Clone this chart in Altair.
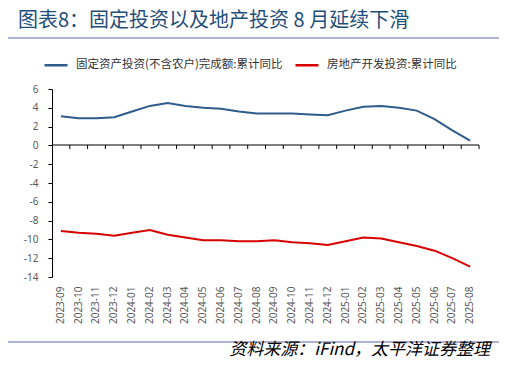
import altair as alt
import pandas as pd

months = ["2023-09", "2023-10", "2023-11", "2023-12", "2024-01", "2024-02", "2024-03", "2024-04",
          "2024-05", "2024-06", "2024-07", "2024-08", "2024-09", "2024-10", "2024-11", "2024-12",
          "2025-01", "2025-02", "2025-03", "2025-04", "2025-05", "2025-06", "2025-07", "2025-08"]
fai = [3.1, 2.9, 2.9, 3.0, 3.6, 4.2, 4.5, 4.2, 4.0, 3.9, 3.6, 3.4,
       3.4, 3.4, 3.3, 3.2, 3.7, 4.1, 4.2, 4.0, 3.7, 2.8, 1.6, 0.5]
realestate = [-9.1, -9.3, -9.4, -9.6, -9.3, -9.0, -9.5, -9.8, -10.1, -10.1, -10.2, -10.2,
              -10.1, -10.3, -10.4, -10.6, -10.2, -9.8, -9.9, -10.3, -10.7, -11.2, -12.0, -12.9]
series_names = ["固定资产投资(不含农户)完成额:累计同比", "房地产开发投资:累计同比"]
series_colors = ["#2E5D8C", "#D80000"]
y_ticks = list(range(-14, 7, 2))
title_text = "图表8：固定投资以及地产投资 8 月延续下滑"
source_text = "资料来源：iFind，太平洋证券整理"

rows = []
for m, v in zip(months, fai):
    rows.append({"month": m, "value": v, "series": series_names[0]})
for m, v in zip(months, realestate):
    rows.append({"month": m, "value": v, "series": series_names[1]})
df = pd.DataFrame(rows)

PLOT_W, PLOT_H = 427, 188

xscale = alt.Scale(type="band", domain=months, paddingInner=0, paddingOuter=0)
yscale = alt.Scale(domain=[-14, 6], nice=False, zero=False)
y_axis = alt.Axis(title=None, values=y_ticks, grid=False, domain=True, domainColor="black",
                  ticks=True, tickColor="black", tickSize=4, labelPadding=10,
                  labelColor="#595959", labelFont="Noto Sans", labelFontSize=10,
                  labelExpr="datum.value + ''")
y_enc = alt.Y("value:Q", scale=yscale, axis=y_axis)

label_axis = alt.Axis(title=None, orient="bottom", domain=False, ticks=False, grid=False,
                      labelAngle=-90, labelPadding=9, labelColor="#595959",
                      labelFont="Noto Sans", labelFontSize=10, labelOverlap=False)

lines = alt.Chart(df).mark_line(strokeWidth=2).encode(
    x=alt.X("month:O", scale=xscale, axis=label_axis, bandPosition=0.5),
    y=y_enc,
    color=alt.Color("series:N",
                    scale=alt.Scale(domain=series_names, range=series_colors),
                    legend=alt.Legend(title=None, orient="none", legendX=-9, legendY=-37,
                                      direction="horizontal", symbolType="stroke",
                                      symbolStrokeWidth=2.5, symbolSize=529,
                                      labelFont="Noto Sans CJK SC", labelFontSize=11.5,
                                      labelColor="#333333", labelOffset=7,
                                      columnPadding=7, padding=0, labelLimit=400)),
)

# horizontal category axis line at y = 0 (zero sits 6/20 of the way down the plot)
zero_rule = alt.Chart(pd.DataFrame({"a": [0]})).mark_rule(
    color="#000000", strokeWidth=1.2).encode(
    x=alt.value(0), x2=alt.value(PLOT_W), y=alt.value(56))

# tick marks at category boundaries, hanging below the zero line
tick_marks = alt.Chart(pd.DataFrame({"month": months})).mark_rule(
    color="#000000", strokeWidth=1).encode(
    x=alt.X("month:O", scale=xscale, axis=label_axis, bandPosition=1),
    y=alt.value(56), y2=alt.value(60))

title = alt.Chart(pd.DataFrame({"t": [title_text]})).mark_text(
    align="left", baseline="middle", font="Noto Sans CJK SC", fontSize=20,
    color="#1F4E79").encode(text="t:N", x=alt.value(-34), y=alt.value(-68))

top_rule = alt.Chart(pd.DataFrame({"a": [0]})).mark_rule(
    color="#9497C4", strokeWidth=1.5).encode(x=alt.value(-47), x2=alt.value(449), y=alt.value(-51))
bottom_rule = alt.Chart(pd.DataFrame({"a": [0]})).mark_rule(
    color="#9497C4", strokeWidth=1.5).encode(x=alt.value(-47), x2=alt.value(449), y=alt.value(253))

source = alt.Chart(pd.DataFrame({"t": [source_text]})).mark_text(
    align="right", baseline="middle", font="Noto Sans CJK SC", fontSize=17,
    fontStyle="italic", color="#000000").encode(text="t:N", x=alt.value(438), y=alt.value(261))

chart = alt.layer(lines, title, top_rule, bottom_rule, source, zero_rule, tick_marks).properties(
    width=PLOT_W, height=PLOT_H, autosize="none",
    padding={"left": 44, "top": 81, "right": 20, "bottom": 83},
    background="white",
).configure_view(stroke=None)

chart.save("out.html", embed_options={"renderer": "svg", "actions": False})
